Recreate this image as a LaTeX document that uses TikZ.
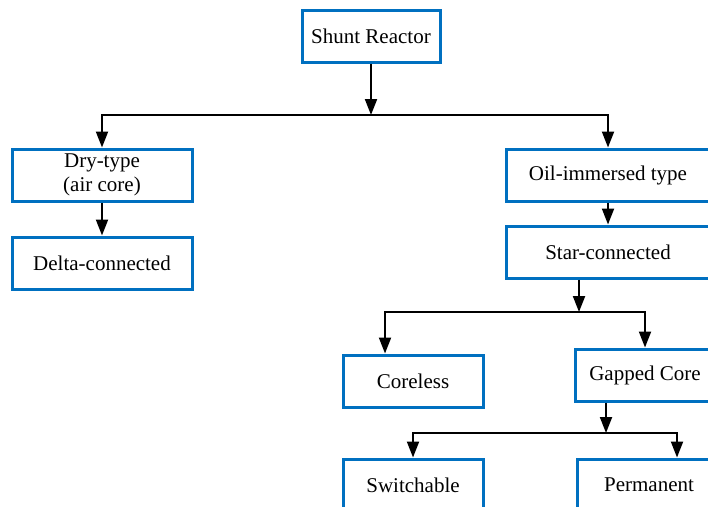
\documentclass[tikz,border=0pt]{standalone}
\usepackage{fontspec}
\setmainfont{Liberation Serif}
\usepackage{tikz}
\usepackage{xcolor}
\usetikzlibrary{arrows.meta, positioning, calc}
\definecolor{cBlue}{RGB}{0,112,192}
\tikzset{
	typebox/.style ={rectangle, draw=cBlue, line width=3pt, minimum height=52pt, inner sep=3pt, align=center, fill=white},
	branch/.style  ={-{Triangle[length=16pt, width=12pt]}, line width=2pt, black},
}

\begin{document}
\begin{tikzpicture}[x=1pt, y=-1pt, font=\fontsize{21}{24}\selectfont]
	\clip (0,0) rectangle (708,506);
	% boxes
	\node[typebox, minimum width=138pt] (sr) at (371,36) {Shunt Reactor};
	\node[typebox, minimum width=180pt] (dry) at (102,175) {Dry-type\\(air core)};
	\node[typebox, minimum width=180pt] (delta) at (102,263) {Delta-connected};
	\node[typebox, minimum width=204pt] (oil) at (608,175) {Oil-immersed type};
	\node[typebox, minimum width=204pt] (star) at (608,252) {Star-connected};
	\node[typebox, minimum width=140pt] (cl) at (413,381) {Coreless};
	\node[typebox, minimum width=140pt] (gap) at (645,375) {Gapped Core};
	\node[typebox, minimum width=140pt] (sw) at (413,485) {Switchable};
	\node[typebox, minimum width=144pt] (pm) at (649,485) {Permanent};
	% junctions
	\coordinate (j1) at (371,115);
	\coordinate (j2) at (579,312);
	\coordinate (j3) at (606,433);
	% connectors
	\draw[branch] (sr) -- (j1);
	\draw[branch] (j1) -| (dry);
	\draw[branch] (j1) -| (oil);
	\draw[branch] (dry) -- (delta);
	\draw[branch] (oil) -- (star);
	\draw[branch] (j2 |- star.south) -- (j2);
	\draw[branch] (j2) -| ($(cl.north)+(-28,0)$);
	\draw[branch] (j2) -| (gap);
	\draw[branch] (j3 |- gap.south) -- (j3);
	\draw[branch] (j3) -| (sw);
	\draw[branch] (j3) -| ($(pm.north)+(28,0)$);
\end{tikzpicture}
\end{document}
